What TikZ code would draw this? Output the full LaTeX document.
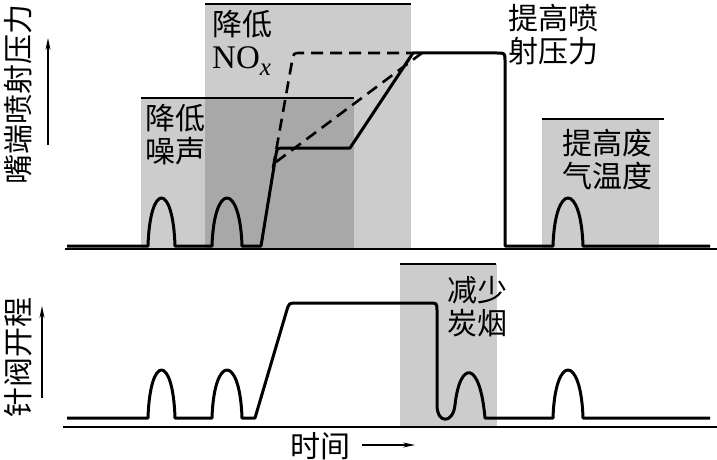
\documentclass[tikz,border=0pt]{standalone}
\usepackage{fontspec}
\newfontfamily\cjk{Noto Sans CJK SC}
\newfontfamily\serif{Liberation Serif}
\usetikzlibrary{arrows.meta}
\definecolor{lightg}{RGB}{204,204,204}
\definecolor{darkg}{RGB}{168,168,168}
\begin{document}
\begin{tikzpicture}[x=1pt,y=-1pt,
  curve/.style={line width=3pt, line join=round},
  dcurve/.style={line width=2.6pt, dash pattern=on 12pt off 7pt},
  axisline/.style={line width=1.6pt},
  topline/.style={line width=1.4pt},
  lbl/.style={font=\cjk\fontsize{30}{33}\selectfont, inner sep=0pt, align=left, anchor=north west},
  ylbl/.style={font=\cjk\fontsize{30}{32}\selectfont, inner sep=0pt, rotate=90},
  axarrow/.style={line width=1.2pt, -{Stealth[length=12pt,width=5pt]}}
]
\useasboundingbox (0,0) rectangle (717,460);
% shaded regions
\fill[lightg] (141,98) rectangle (354,248);
\fill[lightg] (205,4) rectangle (411,248);
\fill[darkg] (205,98) rectangle (354,248);
\fill[lightg] (542,119) rectangle (659,248);
\fill[lightg] (400,264) rectangle (497,426);
\draw[topline] (141,98) -- (354,98);
\draw[topline] (205,4) -- (411,4);
\draw[topline] (542,119) -- (664,119);
\draw[topline] (400,264) -- (496,264);
% axes
\draw[axisline] (65,249) -- (717,249);
\draw[axisline] (63,427) -- (717,427);
% top curves
\draw[dcurve] (273,168) -- (292.1,61) .. controls (293.5,53) .. (301,53) -- (413,53);
\draw[dcurve] (276,162) -- (422,53);
\draw[curve] (67,246) -- (148,246) .. controls (150,182) and (173,182) .. (175,246)
  -- (212,246) .. controls (214,182) and (240,182) .. (242,246)
  -- (261,246) -- (275.9,155) .. controls (277,148) .. (284,148) -- (350,148)
  -- (413,53) -- (497,53) .. controls (505,53) .. (505,61) -- (505,246)
  -- (553,246) .. controls (555,182) and (581,182) .. (583,246) -- (710,246);
% bottom curve
\draw[curve] (67,418) -- (148,418) .. controls (150,354) and (173,354) .. (175,418)
  -- (212,418) .. controls (214,354) and (240,354) .. (242,418)
  -- (255,418) -- (286.6,311) .. controls (289,303) .. (297,303) -- (429,303)
  .. controls (437,303) .. (437,311) -- (437,405)
  .. controls (437,424) and (453,424) .. (455,405)
  .. controls (460,360) and (480,360) .. (485,418)
  -- (553,418) .. controls (555,354) and (581,354) .. (583,418) -- (710,418);
% labels
\node[lbl] (noise) at (145,104) {降低\\噪声};
\node[lbl] (nox) at (212,10) {降低\\{\serif\fontsize{33}{33}\selectfont NO\raisebox{-0.22em}{\fontsize{25}{25}\selectfont\itshape x}}};
\node[lbl] (press) at (508,4) {提高喷\\射压力};
\node[lbl] (exh) at (562,129) {提高废\\气温度};
\node[lbl] (soot) at (447,276) {减少\\炭烟};
% axis titles
\node[ylbl] (ytop) at (18,94) {嘴端喷射压力};
\node[ylbl] (ybot) at (18,357) {针阀开程};
\node[font=\cjk\fontsize{30}{32}\selectfont, inner sep=0pt] (time) at (320,446) {时间};
\coordinate (ta0) at (48,145);
\coordinate (ta1) at (48,38);
\coordinate (ba0) at (42,398);
\coordinate (ba1) at (42,306);
\coordinate (xa0) at (362,445);
\coordinate (xa1) at (415,445);
\draw[axarrow] (ta0) -- (ta1);
\draw[axarrow] (ba0) -- (ba1);
\draw[axarrow] (xa0) -- (xa1);
\end{tikzpicture}
\end{document}
